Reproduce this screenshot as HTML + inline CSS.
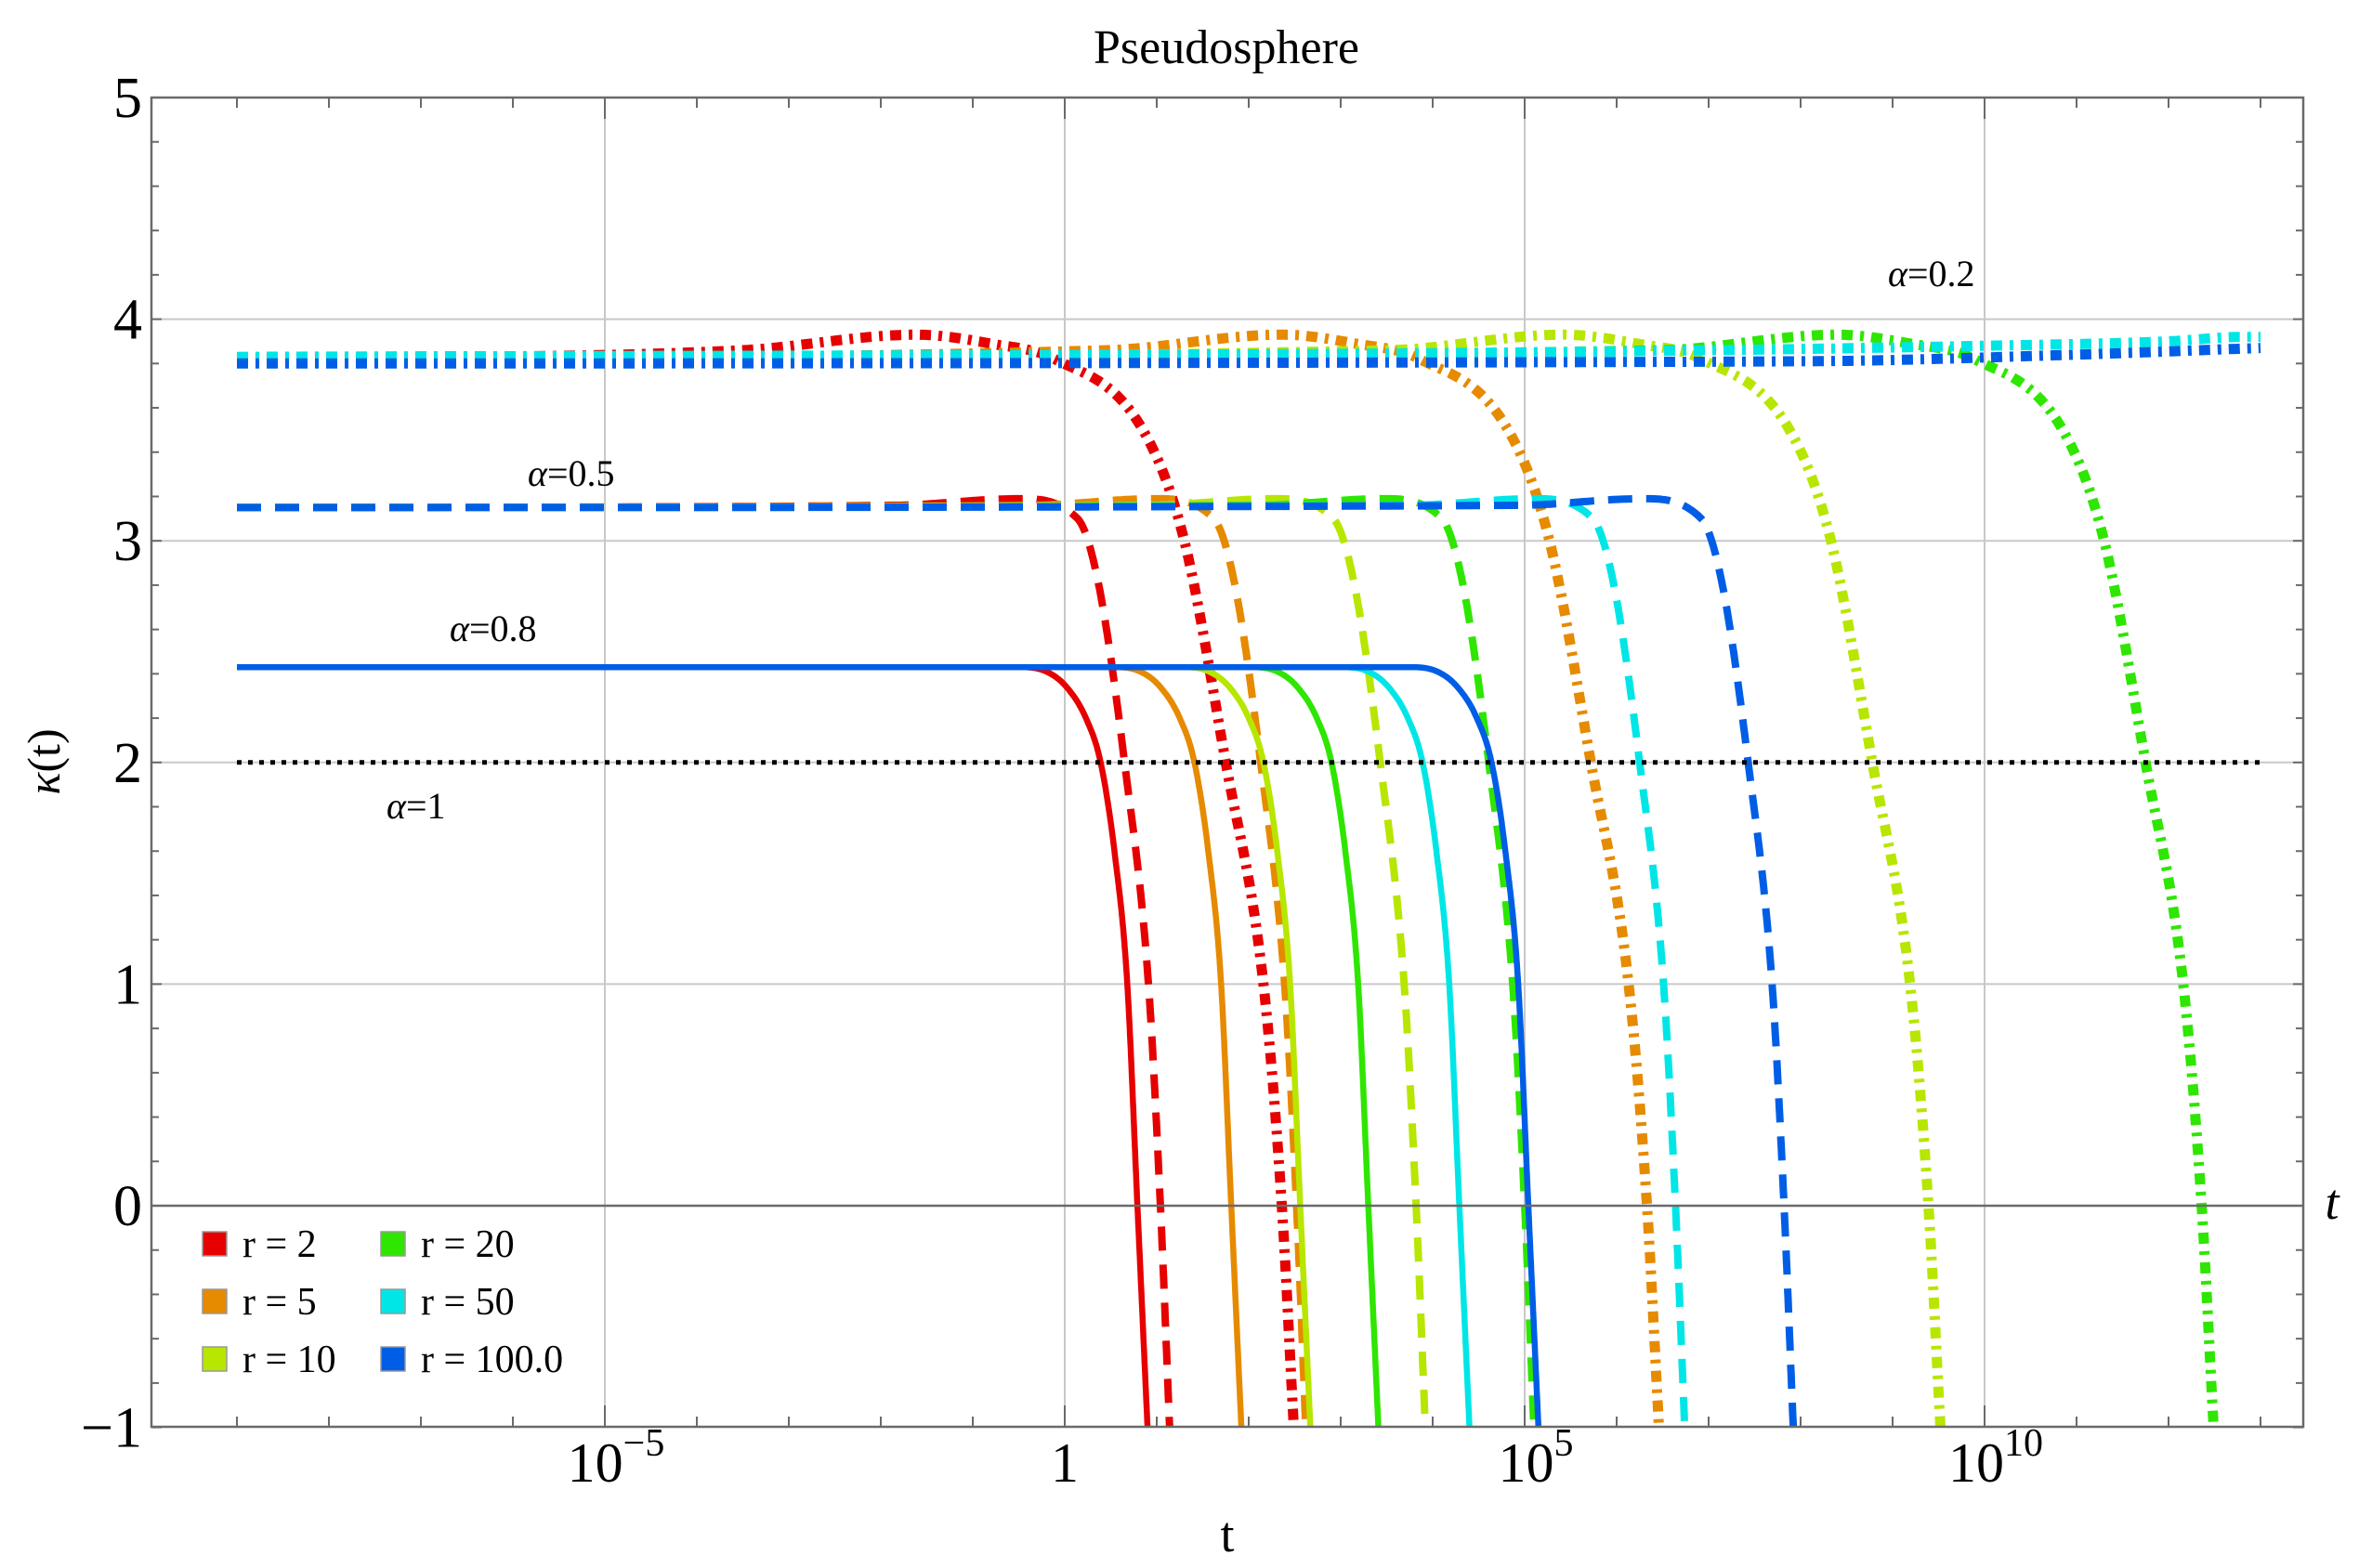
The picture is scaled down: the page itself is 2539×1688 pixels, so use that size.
<!DOCTYPE html>
<html><head><meta charset="utf-8"><title>Pseudosphere</title>
<style>
html,body{margin:0;padding:0;background:#fff;}
svg{display:block;font-family:"Liberation Serif",serif;}
</style></head>
<body>
<svg id="chart" width="2539" height="1688" viewBox="0 0 2539 1688" xmlns="http://www.w3.org/2000/svg">
<rect x="0" y="0" width="2539" height="1688" fill="#fff"/>
<text x="1320" y="68" font-size="52" text-anchor="middle">Pseudosphere</text>
<g id="grid"></g>
<g id="curves" clip-path="url(#plotclip)"></g>
<defs><clipPath id="plotclip"><rect x="163" y="105" width="2316" height="1431"/></clipPath></defs>
<g id="frame"></g>
<g id="labels"></g>
<text x="1321" y="1670" font-size="54" text-anchor="middle">t</text>
<text x="2510" y="1312" font-size="54" font-style="italic" text-anchor="middle">t</text>
<text transform="translate(64,820) rotate(-90)" font-size="50" text-anchor="middle"><tspan font-style="italic">κ</tspan>(t)</text>
<g font-size="40">
<text x="2032" y="308"><tspan font-style="italic">α</tspan>=0.2</text>
<text x="568" y="523"><tspan font-style="italic">α</tspan>=0.5</text>
<text x="484" y="690"><tspan font-style="italic">α</tspan>=0.8</text>
<text x="416" y="881"><tspan font-style="italic">α</tspan>=1</text>
</g>
<g id="legend" font-size="42"></g>
</svg>
<script>
// ---- data ----
const xTickLogs = [-5, 0, 5, 10];
const xTickLabels = [["10","−5"], ["1",""], ["10","5"], ["10","10"]];
const yTicks = [-1, 0, 1, 2, 3, 4, 5];
const yTickLabels = ["−1", "0", "1", "2", "3", "4", "5"];
const legendLabels = ["r = 2", "r = 5", "r = 10", "r = 20", "r = 50", "r = 100.0"];
const colors = ["#e60000", "#e68a00", "#b7e600", "#2ee600", "#00e6e6", "#005ee6"];

// alpha = 0.8 (solid) : log10 t and kappa
const solidX = [
 [-9,-0.50,-0.20,0.02,0.23,0.39,0.54,0.68,0.79,0.90],
 [-9,0.52,0.82,1.04,1.25,1.41,1.56,1.70,1.81,1.92],
 [-9,1.27,1.57,1.79,2.00,2.16,2.31,2.45,2.56,2.67],
 [-9,2.01,2.31,2.53,2.74,2.90,3.05,3.19,3.30,3.41],
 [-9,3.00,3.30,3.52,3.73,3.89,4.04,4.18,4.29,4.40],
 [-9,3.75,4.05,4.27,4.48,4.64,4.79,4.93,5.04,5.15]];
const solidK = [2.43,2.43,2.41,2.34,2.20,2.0,1.6,1.0,0,-1];

// alpha = 0.5 (dashed)
const dashedX = [
 [-9,-1.86,-0.50,0.14,0.37,0.65,0.91,1.04,1.14],
 [-9,-0.38,0.98,1.62,1.85,2.13,2.39,2.52,2.62],
 [-9,0.92,2.28,2.92,3.15,3.43,3.69,3.82,3.92],
 [-9,2.10,3.46,4.10,4.33,4.61,4.87,5.00,5.10],
 [-9,3.74,5.10,5.74,5.97,6.25,6.51,6.64,6.74],
 [-9,4.92,6.28,6.92,7.15,7.43,7.69,7.82,7.92]];
const dashedK = [3.15,3.16,3.19,3.1,2.8,2.0,1.0,0,-1];

// alpha = 0.2 (dot-dashed)
const dotdashX = [
 [-9,-3.51,-1.61,-0.81,-0.11,0.85,1.30,1.75,2.16,2.36,2.49],
 [-9,0.46,2.36,3.16,3.86,4.82,5.27,5.72,6.13,6.33,6.46],
 [-9,3.52,5.42,6.22,6.92,7.88,8.33,8.78,9.19,9.39,9.52],
 [-9,6.49,8.39,9.19,9.89,10.85,11.30,11.75,12.16,12.36,12.49],
 [-9,5,10,12,12.8,13],
 [-9,8,11,13]];
const dotdashK = [
 [3.82,3.86,3.93,3.89,3.82,3.5,3.0,2.0,1.0,0,-1],
 [3.82,3.86,3.93,3.89,3.82,3.5,3.0,2.0,1.0,0,-1],
 [3.82,3.86,3.93,3.89,3.82,3.5,3.0,2.0,1.0,0,-1],
 [3.82,3.86,3.93,3.89,3.82,3.5,3.0,2.0,1.0,0,-1],
 [3.83,3.85,3.88,3.90,3.92,3.92],
 [3.80,3.81,3.84,3.87]];

// alpha = 1 (dotted)
const dottedX = [-9, 13];
const dottedK = [2, 2];

// ---- axes ----
const PL=163, PR=2479, PT=105, PB=1536;
function xPx(l){ return 1146 + 99*l; }
function yPx(k){ return 1298 - 238.6*k; }
const NS="http://www.w3.org/2000/svg";
function mk(tag, attrs, parent){ const e=document.createElementNS(NS,tag); for(const k in attrs) e.setAttribute(k,attrs[k]); parent.appendChild(e); return e; }

const grid=document.getElementById('grid');
xTickLogs.forEach(l=>{
  const g=mk('line',{x1:xPx(l),x2:xPx(l),y1:PT,y2:PB,stroke:'#c8c8c8','stroke-width':2},grid);
  
  
});
yTicks.forEach(k=>{ if(k<=0||k>=5) return;
  const g=mk('line',{x1:PL,x2:PR,y1:yPx(k),y2:yPx(k),stroke:'#c8c8c8','stroke-width':2},grid);
  
  
});

// monotone cubic sampler
function smooth(xs, ks){
  const n=xs.length, d=[], m=[];
  for(let i=0;i<n-1;i++) d.push((ks[i+1]-ks[i])/(xs[i+1]-xs[i]));
  m[0]=d[0]; m[n-1]=d[n-2];
  for(let i=1;i<n-1;i++){ m[i]=(d[i-1]*d[i]<=0)?0:(d[i-1]+d[i])/2; }
  for(let i=0;i<n-1;i++){ if(d[i]===0){m[i]=0;m[i+1]=0;continue;}
    const a=m[i]/d[i], b=m[i+1]/d[i], s=a*a+b*b; if(s>9){const t=3/Math.sqrt(s); m[i]=t*a*d[i]; m[i+1]=t*b*d[i];} }
  const pts=[];
  for(let i=0;i<n-1;i++){ const h=xs[i+1]-xs[i];
    for(let j=0;j<30;j++){ const t=j/30, t2=t*t, t3=t2*t;
      const y=(2*t3-3*t2+1)*ks[i]+(t3-2*t2+t)*h*m[i]+(-2*t3+3*t2)*ks[i+1]+(t3-t2)*h*m[i+1];
      pts.push(xPx(xs[i]+t*h).toFixed(1)+','+yPx(y).toFixed(1)); } }
  pts.push(xPx(xs[n-1]).toFixed(1)+','+yPx(ks[n-1]).toFixed(1));
  return pts.join(' ');
}
const curves=document.getElementById('curves');
const rNames=['r2','r5','r10','r20','r50','r100'];
dotdashX.forEach((xs,i)=>{
  const p=mk('polyline',{points:smooth(xs,dotdashK[i]),fill:'none',stroke:colors[i],'stroke-width':11,'stroke-dasharray':'12 8 4 8'},curves);
  
  
});
dashedX.forEach((xs,i)=>{
  const p=mk('polyline',{points:smooth(xs,dashedK),fill:'none',stroke:colors[i],'stroke-width':8,'stroke-dasharray':'26 15'},curves);
  
  
});
solidX.forEach((xs,i)=>{
  const p=mk('polyline',{points:smooth(xs,solidK),fill:'none',stroke:colors[i],'stroke-width':6.5},curves);
  
  
});
const dl=mk('line',{x1:xPx(dottedX[0]),x2:xPx(dottedX[1]),y1:yPx(dottedK[0]),y2:yPx(dottedK[1]),stroke:'#000','stroke-width':5,'stroke-dasharray':'5 7'},curves);



// frame and ticks
const frame=document.getElementById('frame');
const fr=mk('rect',{x:PL,y:PT,width:PR-PL,height:PB-PT,fill:'none',stroke:'#6a6a6a','stroke-width':2.5},frame);


const ax=mk('line',{x1:PL,x2:PR,y1:yPx(0),y2:yPx(0),stroke:'#6a6a6a','stroke-width':2.5},frame);


for(let l=-9;l<=13;l++){
  const len=(l%5===0)?23:11;
  const t1=mk('line',{x1:xPx(l),x2:xPx(l),y1:PB,y2:PB-len,stroke:'#6a6a6a','stroke-width':2},frame);
  
  
  const t2=mk('line',{x1:xPx(l),x2:xPx(l),y1:PT,y2:PT+len,stroke:'#6a6a6a','stroke-width':2},frame);
  
  
}
for(let i=0;i<=30;i++){
  const k=-1+i*0.2, maj=(i%5===0), len=maj?11:8;
  const t1=mk('line',{x1:PL,x2:PL+len,y1:yPx(k),y2:yPx(k),stroke:'#6a6a6a','stroke-width':2},frame);
  
  
  const t2=mk('line',{x1:PR,x2:PR-len,y1:yPx(k),y2:yPx(k),stroke:'#6a6a6a','stroke-width':2},frame);
  
  
}
// tick labels
const labels=document.getElementById('labels');
yTicks.forEach((k,i)=>{
  const t=mk('text',{x:153,y:yPx(k)+21,'font-size':62,'text-anchor':'end'},labels);
  t.textContent=yTickLabels[i];
  
  
});
xTickLogs.forEach((l,i)=>{
  const t=mk('text',{x:xPx(l)+(xTickLabels[i][1]?12:0),y:1595,'font-size':60,'text-anchor':'middle'},labels);
  
  
  const a=document.createElementNS(NS,'tspan'); a.textContent=xTickLabels[i][0]; t.appendChild(a);
  if(xTickLabels[i][1]){ const b=document.createElementNS(NS,'tspan'); b.setAttribute('dy','-28'); b.setAttribute('font-size','42'); b.textContent=xTickLabels[i][1]; t.appendChild(b); }
});
// legend
const lg=document.getElementById('legend');
legendLabels.forEach((s,i)=>{
  const col=Math.floor(i/3), row=i%3;
  const sx=col?410:218, tx=col?453:261, cy=1339+row*62;
  const r=mk('rect',{x:sx,y:cy-13,width:26,height:26,fill:colors[i],stroke:'#999','stroke-width':1.5},lg);
  
  
  const t=mk('text',{x:tx,y:cy+14},lg);
  t.textContent=s;
  
  
});
</script>
</body></html>
